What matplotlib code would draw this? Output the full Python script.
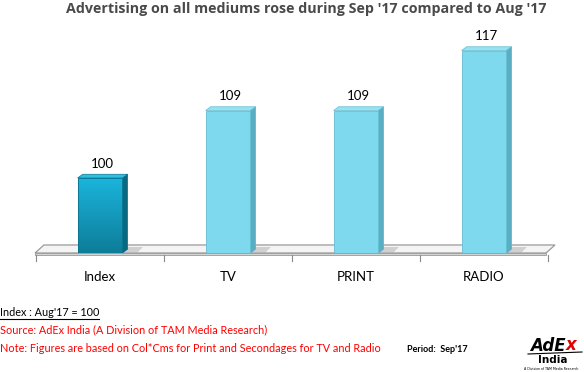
#!/usr/bin/env python3
"""AdEx India: advertising index Sep'17 vs Aug'17, pseudo-3D bars."""

import matplotlib
matplotlib.use("Agg")
import matplotlib.pyplot as plt
import numpy as np
from matplotlib.patches import Polygon, Rectangle
from matplotlib.colors import LinearSegmentedColormap
from matplotlib.lines import Line2D

categories = ["Index", "TV", "PRINT", "RADIO"]
values = [100, 109, 109, 117]

title = "Advertising on all mediums rose during Sep '17 compared to Aug '17"
index_note = "Index : Aug'17 = 100"
source_note = "Source: AdEx India (A Division of TAM Media Research)"
basis_note = "Note: Figures are based on Col*Cms for Print and Secondages for TV and Radio"
period_note = "Period:  Sep'17"

W, H = 584, 372
BASE = 90
BAR_W = 0.35
DX, DY = 0.04, 0.5  # depth offset of the 3D faces

plt.rcParams["font.family"] = ["Lato", "DejaVu Sans"]

fig = plt.figure(figsize=(W / 100, H / 100), dpi=100)
fig.patch.set_facecolor("white")

# axes in pixel frame: x 35..555, y 30..253 (from top)
ax = fig.add_axes([35 / W, 1 - 253 / H, 520 / W, 223 / H])
ax.set_xlim(-0.508, 3.555)
ax.set_ylim(BASE, BASE + 223 / 7.5)
x0, x1 = ax.get_xlim()
y0, y1 = ax.get_ylim()
for s in ax.spines.values():
    s.set_visible(False)
ax.set_yticks([])
ax.set_xticks(range(len(categories)))
ax.set_xticklabels(categories, fontsize=9.5, color="black")
ax.tick_params(axis="x", length=0, pad=13)

# floor plank
fd = 1.07
ax.add_patch(Polygon([(x0, BASE), (x1 - 0.07, BASE), (x1, BASE + fd), (x0 + 0.07, BASE + fd)],
                     closed=True, facecolor="#f4f4f4", edgecolor="#9a9a9a", lw=0.9,
                     clip_on=False, zorder=1))
ax.add_patch(Polygon([(x0, BASE), (x1 - 0.07, BASE), (x1 - 0.07, BASE - 0.25), (x0, BASE - 0.25)],
                     closed=True, facecolor="#d4d4d4", edgecolor="#9a9a9a", lw=0.6,
                     clip_on=False, zorder=1))
for xb in [-0.5, 0.5, 1.5, 2.5, 3.5]:
    ax.plot([xb, xb], [BASE - 0.3, BASE - 1.1], color="#8a8a8a", lw=0.8, clip_on=False, zorder=1)

grad = LinearSegmentedColormap.from_list("idx", ["#0d7d98", "#1bb4dc"])

for i, (cat, v) in enumerate(zip(categories, values)):
    left, right = i - BAR_W / 2, i + BAR_W / 2
    # soft shadow on the floor
    ax.add_patch(Polygon([(left + 0.02, BASE + 0.1), (right + 0.12, BASE + 0.1),
                          (right + 0.16, BASE + 0.8), (left + 0.06, BASE + 0.8)],
                         closed=True, facecolor="#9a9a9a", edgecolor="none", alpha=0.4, zorder=2))
    if i == 0:
        face, side, top, edge = None, "#0a6980", "#2cc1e2", "#0b728c"
    else:
        face, side, top, edge = "#7ed9ee", "#5aaec4", "#94e2f2", "#66bdd1"
    ax.add_patch(Polygon([(right, BASE), (right + DX, BASE + DY), (right + DX, v + DY), (right, v)],
                         closed=True, facecolor=side, edgecolor=side, lw=0.5, zorder=3))
    ax.add_patch(Polygon([(left, v), (left + DX, v + DY), (right + DX, v + DY), (right, v)],
                         closed=True, facecolor=top, edgecolor=edge, lw=0.5, zorder=3))
    if face is None:
        rect = Rectangle((left, BASE), BAR_W, v - BASE, facecolor="none", edgecolor=edge,
                         lw=0.6, zorder=5)
        ax.add_patch(rect)
        img = ax.imshow(np.linspace(0, 1, 100).reshape(-1, 1), cmap=grad, origin="lower",
                        extent=(left, right, BASE, v), aspect="auto", zorder=4)
        img.set_clip_path(rect)
    else:
        ax.add_patch(Rectangle((left, BASE), BAR_W, v - BASE, facecolor=face, edgecolor=edge,
                               lw=0.6, zorder=4))
    ax.text(i + DX / 2, v + DY + 0.6, str(v), ha="center", va="bottom", fontsize=9.5, color="black")

ax.set_xlim(x0, x1)
ax.set_ylim(y0, y1)

fig.text(0.5 + 14 / W, 1 - 9 / H, title, ha="center", va="center", fontsize=10.3,
         fontweight="bold", color="#4a4a4a", family=["Open Sans", "DejaVu Sans"])

t_idx = fig.text(0, 1 - 312 / H, index_note, ha="left", va="center", fontsize=7.8, color="black")
fig.text(0, 1 - 330 / H, source_note, ha="left", va="center", fontsize=7.8, color="#ff0000")
fig.text(0, 1 - 349 / H, basis_note, ha="left", va="center", fontsize=7.8, color="#ff0000")
fig.text(407 / W, 1 - 349 / H, period_note, ha="left", va="center", fontsize=6.5,
         fontweight="bold", color="black")

# AdEx India logo
t_ade = fig.text(530 / W, 1 - 346 / H, "AdE", ha="left", va="center", fontsize=12,
                 fontweight="bold", style="italic", color="black", family=["DejaVu Sans"])

# underline the index note, and place the red "x" right after "AdE"
fig.canvas.draw()
inv = fig.transFigure.inverted()
bb = t_idx.get_window_extent().transformed(inv)
fig.add_artist(Line2D([bb.x0, bb.x1], [bb.y0 - 1 / H, bb.y0 - 1 / H], color="black", lw=0.8,
                      transform=fig.transFigure))
ba = t_ade.get_window_extent().transformed(inv)
fig.text(ba.x1 + 0.5 / W, 1 - 345 / H, "x", ha="left", va="center", fontsize=12, fontweight="bold",
         style="italic", color="#e00000", family=["DejaVu Sans"])

fig.add_artist(Line2D([528 / W, 582 / W], [1 - 354 / H, 1 - 352 / H], color="black", lw=0.8,
                      transform=fig.transFigure))
fig.text(553 / W, 1 - 360 / H, "India", ha="center", va="center", fontsize=7.5, fontweight="bold",
         color="black", family=["DejaVu Sans"])
fig.text(551 / W, 1 - 368.5 / H, "A Division of TAM Media Research", ha="center", va="center",
         fontsize=2.3, color="black", family=["DejaVu Sans"])

fig.savefig("out.png", dpi=100, facecolor="white")
